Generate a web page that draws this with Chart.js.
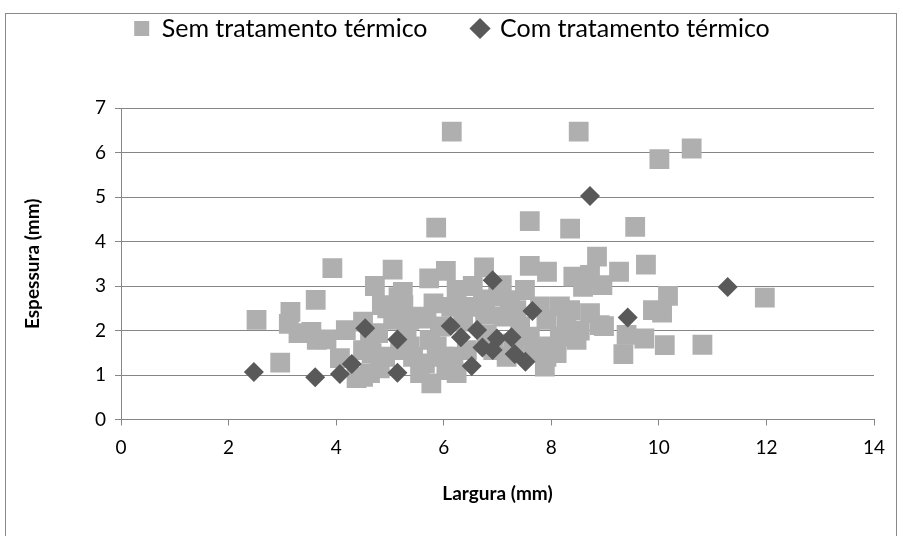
<!DOCTYPE html>
<html>
<head>
<meta charset="utf-8">
<script src="https://cdn.jsdelivr.net/npm/chart.js@4/dist/chart.umd.min.js"></script>
<style>
  html, body { margin: 0; padding: 0; background: #fff; }
  #wrap { position: relative; width: 903px; height: 536px; overflow: hidden; }
  #frame { position: absolute; left: 5px; top: 13px; width: 892px; height: 600px; border: 1.5px solid #898989; box-sizing: border-box; }
  canvas { position: absolute; left: 0; top: 0; }
</style>
</head>
<body>
<div id="wrap">
  <div id="frame"></div>
  <canvas id="chart" width="903" height="536"></canvas>
</div>
<script>
// Sem tratamento térmico (quadrados)
const semX = [
  2.52, 3.93, 3.62, 3.15, 3.12, 3.30, 3.54, 3.64, 3.82, 2.96, 4.18, 4.07, 4.38, 4.50, 4.50,
  6.15, 8.51, 5.86, 7.60, 8.35,
  10.01, 10.61, 9.56,
  9.76, 9.26, 11.97, 10.17, 9.89, 10.06, 9.40, 9.73, 10.11, 10.81, 9.34, 8.98,
  5.05, 4.72, 5.24, 4.85, 4.95, 5.73, 6.04, 5.81, 5.68, 5.36, 6.75, 6.54, 6.73, 7.08, 7.60,
  7.92, 7.51, 8.41, 8.72, 8.85, 8.59, 8.95, 8.16, 8.35, 8.72, 8.90, 4.63, 4.78, 4.66, 4.50,
  4.63, 4.81, 4.91, 5.31, 5.37, 5.43, 5.65, 5.74, 5.87, 5.77, 6.05, 6.24, 5.93, 6.36, 6.43,
  6.77, 6.80, 7.11, 7.17, 7.42, 7.60, 7.66, 7.91, 7.88, 8.16, 8.47, 8.28,
  5.16, 5.25, 5.53, 6.14, 6.24, 6.49, 7.01, 7.23, 7.79, 7.35, 7.91, 6.92, 7.29, 6.18, 6.00,
  5.06, 5.19, 5.56, 7.91, 8.10, 8.53
];
const semY = [
  2.24, 3.40, 2.69, 2.42, 2.15, 1.94, 1.97, 1.79, 1.80, 1.28, 2.01, 1.38, 0.93, 2.20, 1.56,
  6.47, 6.47, 4.31, 4.46, 4.29,
  5.85, 6.09, 4.33,
  3.48, 3.32, 2.74, 2.78, 2.46, 2.40, 1.90, 1.82, 1.67, 1.68, 1.47, 2.10,
  3.37, 3.00, 2.87, 2.57, 2.50, 3.17, 3.34, 2.61, 2.27, 2.24, 3.42, 3.00, 2.70, 3.02, 3.45,
  3.32, 2.91, 3.21, 3.25, 3.66, 2.98, 3.02, 2.54, 2.46, 2.39, 2.12, 1.82, 1.94, 1.49, 0.96,
  1.04, 1.15, 1.41, 2.05, 1.64, 1.41, 1.26, 1.79, 1.64, 0.81, 1.11, 1.04, 2.09, 2.20, 1.56,
  2.35, 1.90, 2.31, 1.41, 2.09, 1.86, 1.52, 1.64, 1.19, 1.86, 1.79, 2.12,
  2.75, 2.57, 2.31, 2.53, 2.91, 2.53, 2.76, 2.68, 2.54, 2.46, 2.24, 1.56, 1.71, 1.41, 1.41,
  2.24, 1.56, 1.04, 1.41, 1.49, 2.00
];

// Com tratamento térmico (losangos)
const comX = [2.47, 3.61, 4.07, 4.29, 4.54, 5.14, 5.14, 6.13, 6.32, 6.62, 6.52,
  6.72, 6.91, 6.99, 7.26, 7.32, 7.52, 6.91, 7.65, 8.72, 9.42, 11.28];
const comY = [1.07, 0.95, 1.02, 1.25, 2.05, 1.80, 1.05, 2.10, 1.85, 2.01, 1.20,
  1.62, 1.56, 1.82, 1.85, 1.47, 1.30, 3.13, 2.44, 5.02, 2.29, 2.98];

const xTitle = 'Largura (mm)';
const yTitle = 'Espessura (mm)';

const semData = semX.map((x, i) => ({ x: x, y: semY[i] }));
const comData = comX.map((x, i) => ({ x: x, y: comY[i] }));

// legenda mais alta para empurrar a área do gráfico para baixo
const legendSpacer = {
  id: 'legendSpacer',
  beforeInit(chart) {
    const fit = chart.legend.fit;
    chart.legend.fit = function () {
      fit.bind(chart.legend)();
      this.height = 108 + 29; // topo da área = 108 (padding.top = -29)
    };
  }
};

Chart.defaults.font.family = 'Lato, "Open Sans", sans-serif';
Chart.defaults.font.size = 19;
Chart.defaults.color = '#000';

const gridColor = '#868686';

new Chart(document.getElementById('chart').getContext('2d'), {
  type: 'scatter',
  data: {
    datasets: [
      {
        label: 'Sem tratamento térmico',
        data: semData,
        pointStyle: 'rect',
        pointRadius: 14,
        pointHoverRadius: 14,
        backgroundColor: '#AFAFAF',
        borderColor: '#AFAFAF',
        borderWidth: 0,
        order: 1
      },
      {
        label: 'Com tratamento térmico',
        data: comData,
        pointStyle: 'rectRot',
        pointRadius: 10,
        pointHoverRadius: 10,
        backgroundColor: '#595959',
        borderColor: '#595959',
        borderWidth: 0,
        order: 0
      }
    ]
  },
  options: {
    responsive: false,
    animation: false,
    layout: { padding: { left: 30, top: -29, right: 29, bottom: 0 } },
    plugins: {
      legend: {
        position: 'top',
        align: 'center',
        labels: {
          usePointStyle: true,
          boxWidth: 15,
          boxHeight: 15,
          padding: 45,
          color: '#000',
          font: { size: 25 },
          sort: (a, b) => a.datasetIndex - b.datasetIndex
        }
      },
      tooltip: { enabled: false }
    },
    scales: {
      x: {
        type: 'linear',
        min: 0,
        max: 14,
        ticks: { stepSize: 2, padding: 11, color: '#000' },
        grid: { drawOnChartArea: false, drawTicks: true, tickLength: 6, color: gridColor },
        border: { color: gridColor, width: 1 },
        title: {
          display: true,
          text: xTitle,
          color: '#000',
          font: { weight: 'bold', size: 19 },
          padding: { top: 0, bottom: 30.6 }
        },
        afterFit(scale) { scale.height = 116.5; }
      },
      y: {
        min: 0,
        max: 7,
        ticks: { stepSize: 1, padding: 9, color: '#000' },
        grid: { color: gridColor, tickLength: 6 },
        border: { color: gridColor, width: 1 },
        title: {
          display: true,
          text: yTitle,
          color: '#000',
          font: { weight: 'bold', size: 19 },
          padding: { top: -8.4, bottom: 0 }
        },
        afterFit(scale) { scale.width = 91; }
      }
    }
  },
  plugins: [legendSpacer]
});
</script>
</body>
</html>
